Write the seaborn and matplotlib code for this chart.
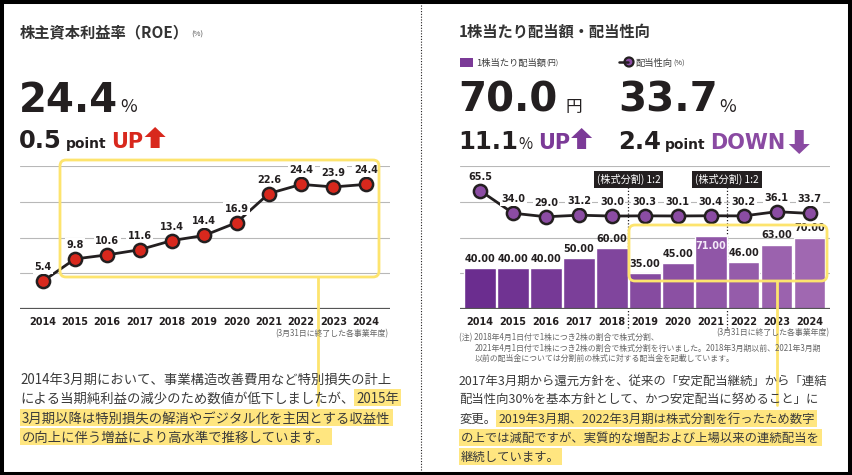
import numpy as np
import matplotlib
matplotlib.use("Agg")
import matplotlib.pyplot as plt
import seaborn as sns
from matplotlib.patches import FancyBboxPatch, Rectangle, Polygon, Circle

# data
years = ["2014", "2015", "2016", "2017", "2018", "2019", "2020", "2021", "2022", "2023", "2024"]
roe = [5.4, 9.8, 10.6, 11.6, 13.4, 14.4, 16.9, 22.6, 24.4, 23.9, 24.4]
dividend = [40.0, 40.0, 40.0, 50.0, 60.0, 35.0, 45.0, 71.0, 46.0, 63.0, 70.0]
payout = [65.5, 34.0, 29.0, 31.2, 30.0, 30.3, 30.1, 30.4, 30.2, 36.1, 33.7]
roe_grid = [7, 14, 21, 28]
div_grid = [35, 70, 105, 140]
split_pos = [4.5, 7.5]
split_label = "(株式分割) 1:2"

W, H = 853, 475
DARK = "#231f20"
TXT = "#3a3a3a"
YEL = "#fde46e"
HL = "#ffe680"
RED = "#d8281d"
PURP = "#7b3a97"
NUM = "DejaVu Sans"

sns.set_theme(style="white")
plt.rcParams["font.family"] = ["Noto Sans CJK JP", "DejaVu Sans"]

fig = plt.figure(figsize=(W / 100, H / 100), dpi=100)


def box(x0, y0, x1, y1):
    return [x0 / W, 1 - y1 / H, (x1 - x0) / W, (y1 - y0) / H]


def clean(ax):
    for s in ax.spines.values():
        s.set_visible(False)
    ax.set_yticks([])
    ax.set_xlabel("")
    ax.set_ylabel("")


# ---- left: ROE line chart
ax1 = fig.add_axes(box(20, 166, 390, 309))
for v in roe_grid:
    ax1.axhline(v, color="#b8b8b8", lw=0.8, zorder=0)
ax1.axhline(0, color="#555555", lw=1.6, zorder=1)
pos = np.arange(len(years))
sns.lineplot(x=pos, y=roe, ax=ax1, color=DARK, lw=2, marker="o", markersize=9.5,
             markerfacecolor=RED, markeredgecolor=DARK, markeredgewidth=1.8, zorder=3)
for i, v in enumerate(roe):
    ax1.annotate(f"{v:.1f}", (i, v), xytext=(0, 6.5), textcoords="offset points",
                 ha="center", va="bottom", fontsize=7, fontweight="bold", family=NUM,
                 color=DARK, zorder=4,
                 bbox=dict(boxstyle="square,pad=0.15", fc="white", ec="none"))
ax1.set_xlim(-0.7, 10.75)
ax1.set_ylim(0, 28)
ax1.set_xticks(pos)
ax1.set_xticklabels(years, fontsize=7, fontweight="bold", family=NUM, color=DARK)
ax1.tick_params(axis="x", length=0, pad=6)
clean(ax1)

# ---- right: dividend bars + payout line
ax2 = fig.add_axes(box(460, 166, 830, 309))
for v in div_grid:
    ax2.axhline(v, color="#b8b8b8", lw=0.8, zorder=0)
pal = sns.blend_palette(["#6b2d8f", "#a068b1"], len(years))
sns.barplot(x=years, y=dividend, hue=years, palette=pal, legend=False, saturation=1,
            width=0.96, ax=ax2, zorder=2)
ax2.axhline(0, color="#555555", lw=1.6, zorder=3)
for i, v in enumerate(dividend):
    if v == max(dividend):
        ax2.annotate(f"{v:.2f}", (i, v), xytext=(0, -3), textcoords="offset points",
                     ha="center", va="top", fontsize=7, fontweight="bold", family=NUM,
                     color="#f4eaf8", zorder=4)
    else:
        ax2.annotate(f"{v:.2f}", (i, v), xytext=(0, 3), textcoords="offset points",
                     ha="center", va="bottom", fontsize=7, fontweight="bold", family=NUM,
                     color=DARK, zorder=4)
ax2.set_xlim(-0.61, 10.62)
ax2.set_ylim(0, 140)
ax2.set_xticks(pos)
ax2.set_xticklabels(years, fontsize=7, fontweight="bold", family=NUM, color=DARK)
ax2.tick_params(axis="x", length=0, pad=6)
clean(ax2)

for xp in split_pos:
    ax2.plot([xp, xp], [-0.13, 0.85], transform=ax2.get_xaxis_transform(), clip_on=False,
             color=DARK, lw=0.9, ls=(0, (1, 1.6)), zorder=1)
    ax2.text(xp, 0.905, split_label, transform=ax2.get_xaxis_transform(), ha="center",
             va="center", fontsize=7.3, color="white", zorder=5,
             bbox=dict(boxstyle="square,pad=0.3", fc=DARK, ec="none"))

ax3 = ax2.twinx()
sns.lineplot(x=pos, y=payout, ax=ax3, color=DARK, lw=2, marker="o", markersize=9.5,
             markerfacecolor="#8b4ca3", markeredgecolor=DARK, markeredgewidth=1.8)
for i, v in enumerate(payout):
    ax3.annotate(f"{v:.1f}", (i, v), xytext=(0, 6.5), textcoords="offset points",
                 ha="center", va="bottom", fontsize=7, fontweight="bold", family=NUM,
                 color=DARK, bbox=dict(boxstyle="square,pad=0.15", fc="white", ec="none"))
ax3.set_ylim(-100, 100)
ax3.set_xlim(-0.61, 10.62)
clean(ax3)

# ---- overlay in pixel coordinates
ov = fig.add_axes([0, 0, 1, 1], zorder=10)
ov.set_xlim(0, W)
ov.set_ylim(H, 0)
ov.axis("off")
R = fig.canvas.get_renderer()


def right_edge(t):
    bb = t.get_window_extent(R)
    return ov.transData.inverted().transform((bb.x1, bb.y0))[0]


def chain(x, y, parts):
    for s, gap, kw in parts:
        t = ov.text(x + gap, y, s, va="baseline", ha="left", **kw)
        x = right_edge(t)
    return x


def arrow(x, ytop, ybot, color, up=True):
    w, hw, hl = 4.5, 10.5, 10
    cx = x + hw
    if up:
        pts = [(cx - w, ybot), (cx - w, ytop + hl), (cx - hw, ytop + hl), (cx, ytop),
               (cx + hw, ytop + hl), (cx + w, ytop + hl), (cx + w, ybot)]
    else:
        pts = [(cx - w, ytop), (cx - w, ybot - hl), (cx - hw, ybot - hl), (cx, ybot),
               (cx + hw, ybot - hl), (cx + w, ybot - hl), (cx + w, ytop)]
    ov.add_patch(Polygon(pts, closed=True, fc=color, ec="none"))


# frame and divider
ov.add_patch(Rectangle((2, 2), 848.5, 471.5, fill=False, ec="black", lw=2.9))
ov.plot([421, 421], [5, 471], color=DARK, lw=0.8, ls=(0, (1, 1.5)))

# titles
chain(20, 37, [("株主資本利益率（ROE）", 0, dict(fontsize=11, fontweight="bold", color="#333333")),
               ("(%)", 2, dict(fontsize=5.5, color="#555555"))])
ov.text(459, 37, "1株当たり配当額・配当性向", fontsize=11, fontweight="bold", color="#333333",
        va="baseline")

# big figures
bold_num = dict(fontsize=29, fontweight="bold", family=NUM, color=DARK)
mid_num = dict(fontsize=17.5, fontweight="bold", family=NUM, color=DARK)
chain(19, 112, [("24.4", 0, bold_num), ("%", 2, dict(fontsize=13, color=DARK))])
x = chain(19, 148, [("0.5", 0, mid_num),
                    ("point", 4, dict(fontsize=10, fontweight="bold", family=NUM, color=DARK)),
                    ("UP", 5, dict(fontsize=15, fontweight="bold", family=NUM, color=RED))])
arrow(x + 1, 127, 148, RED, up=True)

chain(458, 112, [("70.0", 0, bold_num), ("円", 8, dict(fontsize=12, color=DARK))])
chain(618, 112, [("33.7", 0, bold_num), ("%", 2, dict(fontsize=13, color=DARK))])
x = chain(458, 149, [("11.1", 0, mid_num), ("%", 1, dict(fontsize=11, color=DARK)),
                     ("UP", 5, dict(fontsize=15, fontweight="bold", family=NUM, color=PURP))])
arrow(x + 1, 128, 149, PURP, up=True)
x = chain(618, 149, [("2.4", 0, mid_num),
                     ("point", 4, dict(fontsize=10, fontweight="bold", family=NUM, color=DARK)),
                     ("DOWN", 5, dict(fontsize=15, fontweight="bold", family=NUM, color="#8a4aa2"))])
arrow(x + 3, 130, 154, "#8a4aa2", up=False)

# legend row
ov.add_patch(Rectangle((460, 58), 13, 9, fc="#7b3a97", ec="none"))
chain(476, 65.5, [("1株当たり配当額", 0, dict(fontsize=6.7, color=TXT)),
                  ("(円)", 0.5, dict(fontsize=5.3, color=TXT))])
ov.plot([619, 628], [62, 62], color=DARK, lw=1.8)
ov.add_patch(Circle((629, 62), 4.5, fc="#8b4ca3", ec=DARK, lw=1.6))
chain(636, 65.5, [("配当性向", 0, dict(fontsize=6.7, color=TXT)),
                  ("(%)", 0.5, dict(fontsize=5.3, color=TXT))])

# yellow call-out boxes
ov.add_patch(FancyBboxPatch((60, 160), 319, 117, boxstyle="round,pad=0,rounding_size=6",
                            fc="none", ec=YEL, lw=2))
ov.plot([318, 318], [277, 405], color=YEL, lw=2)
ov.add_patch(FancyBboxPatch((629, 225), 198, 56, boxstyle="round,pad=0,rounding_size=6",
                            fc="none", ec=YEL, lw=2))
ov.plot([777, 777], [281, 405], color=YEL, lw=2)

# small notes
note = dict(fontsize=5.7, color="#666666", va="center")
ov.text(388, 334, "(3月31日に終了した各事業年度)", ha="right", **note)
ov.text(829, 333, "(3月31日に終了した各事業年度)", ha="right", **note)
ov.text(459, 337.5, "(注) 2018年4月1日付で1株につき2株の割合で株式分割、", ha="left", **note)
ov.text(475, 348, "2021年4月1日付で1株につき2株の割合で株式分割を行いました。2018年3月期以前、2021年3月期",
        ha="left", **note)
ov.text(475, 358.5, "以前の配当金については分割前の株式に対する配当金を記載しています。", ha="left", **note)


def hl_text(x, y, s, kw):
    t = ov.text(x, y, s, zorder=3, **kw)
    x1 = right_edge(t)
    ov.add_patch(Rectangle((x - 2, y - 8.5), x1 - x + 4, 17, fc=HL, ec="none", zorder=1))
    return x1


left_lines = [
    [("2014年3月期において、事業構造改善費用など特別損失の計上", False)],
    [("による当期純利益の減少のため数値が低下しましたが、", False), ("2015年", True)],
    [("3月期以降は特別損失の解消やデジタル化を主因とする収益性", True)],
    [("の向上に伴う増益により高水準で推移しています。", True)],
]
right_lines = [
    [("2017年3月期から還元方針を、従来の「安定配当継続」から「連結", False)],
    [("配当性向30%を基本方針として、かつ安定配当に努めること」に", False)],
    [("変更。", False), ("2019年3月期、2022年3月期は株式分割を行ったため数字", True)],
    [("の上では減配ですが、実質的な増配および上場以来の連続配当を", True)],
    [("継続しています。", True)],
]


def paragraph(x0, y0, step, lines, size):
    kw = dict(fontsize=size, color=TXT, va="center_baseline", ha="left")
    for k, parts in enumerate(lines):
        x, y = x0, y0 + k * step
        for s, mark in parts:
            if mark:
                x = hl_text(x + 2, y, s, kw)
            else:
                x = right_edge(ov.text(x, y, s, zorder=3, **kw))


paragraph(20, 378, 19.5, left_lines, 9.6)
paragraph(459, 380, 19, right_lines, 8.9)

fig.savefig("out.png", dpi=100)
